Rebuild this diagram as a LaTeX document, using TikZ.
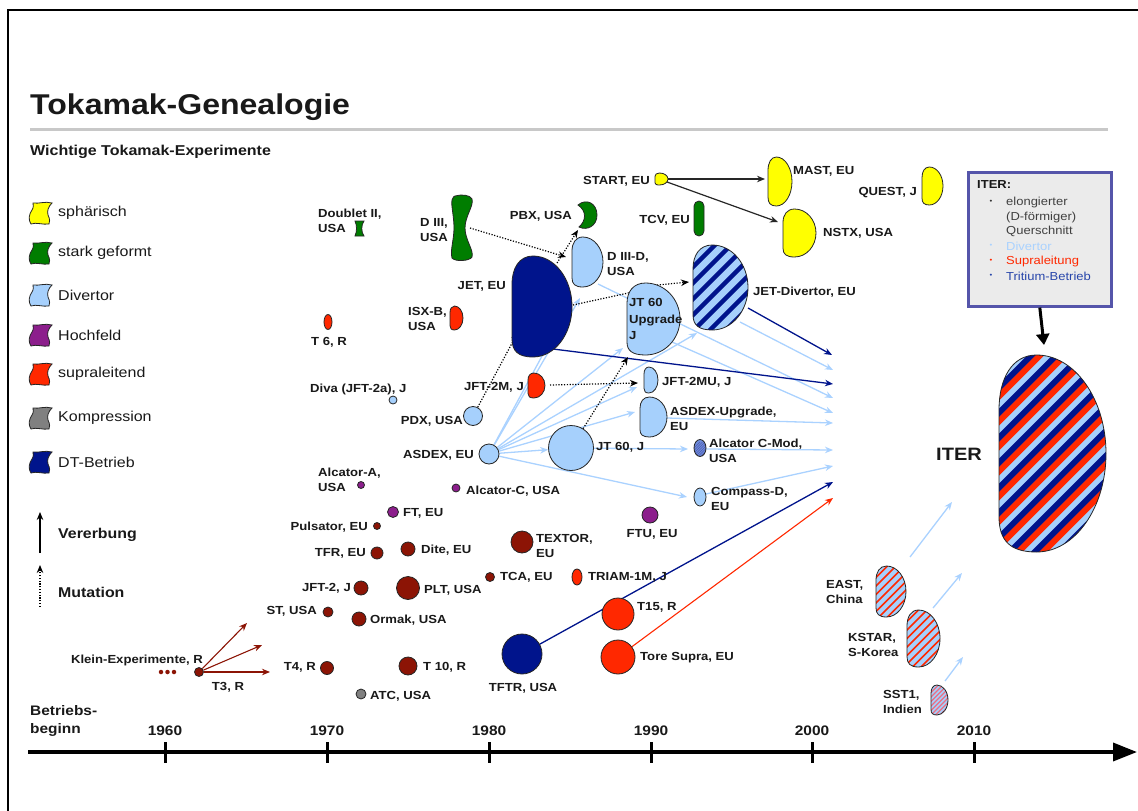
\documentclass[tikz,border=0pt]{standalone}
\usepackage{fontspec}
\setmainfont{Liberation Sans}[FakeStretch=1.12]
\usetikzlibrary{arrows.meta,shapes.geometric}
\pgfdeclarelayer{back}
\pgfdeclarelayer{bg}
\pgfsetlayers{back,bg,main}
\definecolor{cyel}{RGB}{255,255,0}
\definecolor{cgrn}{RGB}{0,125,0}
\definecolor{clb}{RGB}{166,208,252}
\definecolor{cpur}{RGB}{140,30,140}
\definecolor{cred}{RGB}{255,40,0}
\definecolor{cgry}{RGB}{128,128,128}
\definecolor{cdb}{RGB}{0,20,140}
\definecolor{cdr}{RGB}{140,20,5}
\definecolor{carr}{RGB}{170,210,255}
\definecolor{cbox}{RGB}{85,85,170}
\definecolor{cboxf}{RGB}{235,235,235}
\definecolor{crule}{RGB}{200,200,200}
\definecolor{ctxt}{RGB}{25,25,25}
\definecolor{cpink}{RGB}{235,110,130}
\definecolor{chatch}{RGB}{110,140,220}
\newcommand\Dcalc[4]{%
 \pgfmathsetmacro\dL{#1}\pgfmathsetmacro\dT{#2}%
 \pgfmathsetmacro\dR{#3}\pgfmathsetmacro\dB{#4}%
 \pgfmathsetmacro\dW{#3-#1}\pgfmathsetmacro\dH{#4-#2}%
 \pgfmathsetmacro\dxa{#1+0.35*\dW}\pgfmathsetmacro\dxb{#1+0.71*\dW}%
 \pgfmathsetmacro\dxc{#1+0.12*\dW}\pgfmathsetmacro\dxd{#1+0.10*\dW}%
 \pgfmathsetmacro\dya{#2+0.28*\dH}\pgfmathsetmacro\dyb{#4-0.18*\dH}%
 \pgfmathsetmacro\dym{#2+0.5*\dH}\pgfmathsetmacro\dyc{#2+0.775*\dH}%
 \pgfmathsetmacro\dyd{#2+0.225*\dH}\pgfmathsetmacro\dye{#2+0.12*\dH}%
 \pgfmathsetmacro\dyf{#4-0.06*\dH}%
}
\newcommand\Dpath{(\dL,\dya) -- (\dL,\dyb) .. controls (\dL,\dyf) and (\dxd,\dB) .. (\dxa,\dB) .. controls (\dxb,\dB) and (\dR,\dyc) .. (\dR,\dym) .. controls (\dR,\dyd) and (\dxb,\dT) .. (\dxa,\dT) .. controls (\dxc,\dT) and (\dL,\dye) .. (\dL,\dya) -- cycle}
\newcommand\Dshape[6]{%
 \Dcalc{#2}{#3}{#4}{#5}%
 \draw[shapeline, fill=#1] \Dpath;
 \coordinate (#6) at ({(#2+#4)/2},{(#3+#5)/2});
}
\newcommand\stripeD[6]{%
 \Dcalc{#1}{#2}{#3}{#4}%
 \begin{scope}
 \clip \Dpath;
 \fill[clb] (\dL,\dT) rectangle (\dR,\dB);
 #6
 \end{scope}
 \draw[shapeline] \Dpath;
 \coordinate (#5) at ({(#1+#3)/2},{(#2+#4)/2});
}
\newcommand\legflag[4]{%
 \begin{scope}[shift={(40,#1)}]
 \draw[shapeline, fill=#2] (-7,-10) .. controls (-1,-9) and (5,-12) .. (12,-10)
   .. controls (8,-6) and (7,-2) .. (8,2) .. controls (10,6) and (10,9) .. (9,11)
   .. controls (3,12) and (-4,9) .. (-9,11)
   .. controls (-12,7) and (-11,1) .. (-8,-3) .. controls (-6,-6) and (-7,-8) .. (-7,-10) -- cycle;
 \end{scope}
 \node[legtxt] (#4) at (58,#1) {#3};
}
\begin{document}
\begin{tikzpicture}[x=1pt,y=-1pt,
 shapeline/.style={draw=black!85, line width=0.8pt},
 ball/.style={circle, shapeline, inner sep=0pt},
 ovalnode/.style={ellipse, shapeline, inner sep=0pt},
 lab/.style={font=\bfseries\fontsize{11.7}{15.5}\selectfont, inner sep=0pt, align=left, text=ctxt},
 labE/.style={lab, anchor=east},
 labW/.style={lab, anchor=west},
 legtxt/.style={font=\fontsize{14.3}{17}\selectfont, inner sep=0pt, anchor=west, text=ctxt},
 yearlab/.style={font=\bfseries\fontsize{13.8}{16}\selectfont, inner sep=0pt, text=ctxt},
 boxtxt/.style={font=\fontsize{11.6}{14}\selectfont, inner sep=0pt, anchor=west},
 bul/.style={font=\fontsize{7}{8}\selectfont, inner sep=0pt},
 tipS/.style={-{Stealth[length=8pt,width=6.5pt]}},
 lbarr/.style={draw=carr, line width=1.3pt, tipS},
 dbarr/.style={draw=cdb, line width=1.3pt, tipS},
 rdarr/.style={draw=cred, line width=1.1pt, tipS},
 drarr/.style={draw=cdr, line width=1.1pt, tipS},
 blkarr/.style={draw=black!85, line width=1.2pt, tipS},
 mutline/.style={draw=black, line width=1.2pt, dash pattern=on 1.2pt off 1.6pt},
 mutarr/.style={mutline, tipS},
]
\useasboundingbox (0,0) rectangle (1138,811);
\begin{pgfonlayer}{back}
\fill[white] (0,0) rectangle (1138,811);
\end{pgfonlayer}
% frame
\draw[line width=2pt] (8,815) -- (8,10) -- (1142,10);
% title
\node[anchor=base west, inner sep=0pt, font=\bfseries\fontsize{28.6}{30}\selectfont, text=ctxt] (title) at (30,114) {Tokamak-Genealogie};
\draw[crule, line width=3pt] (30,129) -- (1108,129);
\node[anchor=west, inner sep=0pt, font=\bfseries\fontsize{14.3}{16}\selectfont, text=ctxt] (sub) at (30,152) {Wichtige Tokamak-Experimente};
% legend
\legflag{213}{cyel}{sphärisch}{lg1}
\legflag{253}{cgrn}{stark geformt}{lg2}
\legflag{295}{clb}{Divertor}{lg3}
\legflag{335}{cpur}{Hochfeld}{lg4}
\legflag{374}{cred}{supraleitend}{lg5}
\legflag{418}{cgry}{Kompression}{lg6}
\legflag{462}{cdb}{DT-Betrieb}{lg7}
\coordinate (verA) at (40,553); \coordinate (verB) at (40,512);
\draw[blkarr, draw=black] (verA) -- (verB);
\node[legtxt, font=\bfseries\fontsize{14.2}{17}\selectfont] (ver) at (58,535) {Vererbung};
\coordinate (mutA) at (40,607); \coordinate (mutB) at (40,565);
\draw[mutarr] (mutA) -- (mutB);
\node[legtxt, font=\bfseries\fontsize{14.2}{17}\selectfont] (mut) at (58,592) {Mutation};
% axis
\coordinate (ax0) at (28,752); \coordinate (ax1) at (1137,752);
\draw[line width=3.5pt, -{Triangle[length=24pt,width=18pt]}] (ax0) -- (ax1);
\foreach \yr/\xx in {1960/165,1970/327,1980/489,1990/651,2000/812,2010/974}{
 \draw[line width=3pt] (\xx,742) -- (\xx,763);
 \node[yearlab] (y\yr) at (\xx,731) {\yr};
}
\node[anchor=west, align=left, inner sep=0pt, font=\bfseries\fontsize{13.8}{18.5}\selectfont, text=ctxt] (bb) at (30,721) {Betriebs-\\beginn};
% circles
\foreach \n/\x/\y/\d/\c in {T3/199/672/9/cdr, Tfour/327/668/13/cdr, ST/328/612/10/cdr, JFTtwo/361/588/14/cdr,
 Ormak/359/619/14/cdr, TFR/377/553/12/cdr, Pulsator/377/526/7/cdr, FT/393/512/11/cpur, AlcA/361/485/7/cpur,
 Dite/408/549/14/cdr, PLT/408/588/23/cdr, Tten/408/666/18/cdr, ATC/361/694/10/cgry, AlcC/456/488/8/cpur,
 TCA/490/577/9/cdr, TEXTOR/522/542/22/cdr, FTU/650/515/16/cpur, Tfifteen/618/614/32/cred,
 ToreSupra/618/657/34/cred, TFTR/522/654/40/cdb, Diva/393/400/8/clb, PDX/473/416/19/clb,
 ASDEX/489/454/20/clb, JTsixty/571/448/45/clb}
 { \node[ball, fill=\c, minimum size=\d] (\n) at (\x,\y) {}; }
\foreach \n/\x in {kd1/161, kd2/167.5, kd3/174}
 { \node[circle, fill=cdr, inner sep=0pt, minimum size=4.5] (\n) at (\x,672) {}; }
% ellipses
\node[ovalnode, fill=cred, minimum width=8, minimum height=15] (Tsix) at (328,322) {};
\node[ovalnode, fill=cred, minimum width=10, minimum height=16] (TRIAM) at (577,577) {};
\node[ovalnode, fill=clb, minimum width=12, minimum height=18] (CompassD) at (700,497) {};
\begin{scope}
 \clip (700,448) ellipse [x radius=6pt, y radius=8.5pt];
 \fill[chatch] (690,438) rectangle (710,460);
 \foreach \s in {0,2.5,...,32} \draw[cdb!70, line width=0.5pt] (680+\s,462) -- ++(20,-20);
\end{scope}
\draw[shapeline] (700,448) ellipse [x radius=6pt, y radius=8.5pt];
\coordinate (AlcCMod) at (700,448);
% D shapes
\Dshape{cdb}{512}{256}{572}{357}{JET}
\Dshape{clb}{572}{237}{603}{287}{DIIID}
\Dshape{clb}{627}{283}{680}{355}{JTsixtyU}
\Dshape{cred}{528}{373}{545}{398}{JFTtwoM}
\Dshape{clb}{644}{367}{658}{393}{JFTtwoMU}
\Dshape{clb}{640}{397}{667}{437}{AUG}
\Dshape{cred}{450}{306}{463}{330}{ISXB}
\Dshape{cyel}{655}{173}{668}{185}{START}
\Dshape{cyel}{768}{157}{792}{206}{MAST}
\Dshape{cyel}{783}{209}{816}{257}{NSTX}
\Dshape{cyel}{922}{167}{943}{205}{QUEST}
\stripeD{693}{245}{748}{330}{JETDiv}{\foreach \s in {0,16,...,160} \draw[cdb, line width=4.3pt] (\dL-\dH+\s,\dB+6) -- ++(120,-120);}
\stripeD{999}{355}{1106}{552}{ITER}{\foreach \s in {0,25,...,325} {\draw[cdb, line width=6.1pt] (\dL-\dH+\s,\dB+8) -- ++(230,-230); \draw[cred, line width=6.1pt] (\dL-\dH+\s+8.33,\dB+8) -- ++(230,-230);}}
\stripeD{876}{566}{906}{617}{EAST}{\foreach \s in {0,8.5,...,95} \draw[cred, line width=1.7pt] (\dL-\dH+\s,\dB+3) -- ++(70,-70);}
\stripeD{907}{610}{940}{667}{KSTAR}{\foreach \s in {0,8.5,...,100} \draw[cred, line width=1.7pt] (\dL-\dH+\s,\dB+3) -- ++(75,-75);}
\stripeD{931}{685}{948}{715}{SST}{\foreach \s in {0,4.5,...,55} \draw[cpink, line width=1.2pt] (\dL-\dH+\s,\dB+3) -- ++(40,-40);}
% green custom shapes
\draw[shapeline, fill=cgrn] (455,196) .. controls (462,194) and (470,195) .. (472,199) .. controls (474,206) and (465,216) .. (465,228) .. controls (465,240) and (474,250) .. (472,257) .. controls (470,261) and (455,262) .. (452,258) .. controls (450,250) and (454,240) .. (454,228) .. controls (454,216) and (451,206) .. (452,200) .. controls (453,197) and (454,196) .. (455,196) -- cycle;
\coordinate (DIII) at (462,228);
\draw[shapeline, fill=cgrn] (355,221) -- (364,221) .. controls (361,225) and (361,232) .. (364,236) -- (355,236) .. controls (357,232) and (357,225) .. (355,221) -- cycle;
\coordinate (DoubletII) at (359,229);
\draw[shapeline, fill=cgrn] (578,205) .. controls (586,198) and (597,203) .. (597,215) .. controls (597,226) and (587,231) .. (579,227) .. controls (586,221) and (587,211) .. (578,205) -- cycle;
\coordinate (PBX) at (588,215);
\draw[shapeline, fill=cgrn, rounded corners=5pt] (694,201) rectangle (704,236);
\coordinate (TCV) at (699,218);
% ITER box
\node[draw=cbox, line width=2.6pt, fill=cboxf, minimum width=143, minimum height=134, anchor=north west, inner sep=0pt] (box) at (967,171) {};
\node[anchor=west, inner sep=0pt, font=\bfseries\fontsize{11.6}{14}\selectfont, text=ctxt] (boxT) at (977,185) {ITER:};
\node[boxtxt, text=black!75] (bx1) at (1006,202) {elongierter};
\node[boxtxt, text=black!75] (bx2) at (1006,217) {(D-förmiger)};
\node[boxtxt, text=black!75] (bx3) at (1006,231) {Querschnitt};
\node[boxtxt, text=carr] (bx4) at (1006,246) {Divertor};
\node[boxtxt, text=cred] (bx5) at (1006,261) {Supraleitung};
\node[boxtxt, text={rgb,255:red,40;green,70;blue,170}] (bx6) at (1006,276) {Tritium-Betrieb};
\node[bul, text=black!80] (bu1) at (991,202) {•};
\node[bul, text=carr] (bu4) at (991,246) {•};
\node[bul, text=cred] (bu5) at (991,261) {•};
\node[bul, text={rgb,255:red,40;green,70;blue,170}] (bu6) at (991,276) {•};
\coordinate (itertop) at (1044,345);
\draw[line width=3pt, -{Triangle[length=11pt,width=13pt]}] (box.south) -- (itertop);
% labels
\node[lab] (lKlein) at (137,660) {Klein-Experimente, R};
\node[lab] (lT3) at (228,687) {T3, R};
\node[labE] (lT4) at (316,667) {T4, R};
\node[labE] (lST) at (317,611) {ST, USA};
\node[labE] (lJFT2) at (351,588) {JFT-2, J};
\node[labE] (lTFR) at (366,553) {TFR, EU};
\node[labE] (lPuls) at (368,527) {Pulsator, EU};
\node[labW] (lAlcA) at (318,480) {Alcator-A,\\USA};
\node[labW] (lDiva) at (310,389) {Diva (JFT-2a), J};
\node[labE] (lPDX) at (463,421) {PDX, USA};
\node[labE] (lASDEX) at (474,455) {ASDEX, EU};
\node[labE] (lJFT2M) at (524,387) {JFT-2M, J};
\node[labE] (lJET) at (506,286) {JET, EU};
\node[labW] (lISXB) at (408,319) {ISX-B,\\USA};
\node[lab] (lT6) at (329,342) {T 6, R};
\node[labW] (lDoub) at (318,221) {Doublet II,\\USA};
\node[labW] (lDIII) at (420,230) {D III,\\USA};
\node[labE] (lPBX) at (572,216) {PBX, USA};
\node[labE] (lSTART) at (650,181) {START, EU};
\node[labE] (lTCV) at (690,220) {TCV, EU};
\node[labE] (lQUEST) at (917,193) {QUEST, J};
\node[labW] (lEAST) at (826,592) {EAST,\\China};
\node[labW] (lKSTAR) at (848,645) {KSTAR,\\S-Korea};
\node[labW] (lSST) at (883,702) {SST1,\\Indien};
\node[labW] (lOrmak) at (370,620) {Ormak, USA};
\node[labW] (lFT) at (403,513) {FT, EU};
\node[labW] (lDite) at (421,550) {Dite, EU};
\node[labW] (lPLT) at (424,590) {PLT, USA};
\node[labW] (lT10) at (423,667) {T 10, R};
\node[labW] (lATC) at (370,696) {ATC, USA};
\node[labW] (lAlcC) at (466,491) {Alcator-C, USA};
\node[labW] (lTCA) at (500,577) {TCA, EU};
\node[labW] (lTEXTOR) at (536,546) {TEXTOR,\\EU};
\node[labW] (lTRIAM) at (588,577) {TRIAM-1M, J};
\node[labW] (lT15) at (637,607) {T15, R};
\node[labW] (lTore) at (640,658) {Tore Supra, EU};
\node[lab] (lTFTR) at (523,688) {TFTR, USA};
\node[lab] (lFTU) at (652,534) {FTU, EU};
\node[labW] (lJT60) at (596,447) {JT 60, J};
\node[labW] (lJFT2MU) at (662,382) {JFT-2MU, J};
\node[labW] (lAUG) at (670,419) {ASDEX-Upgrade,\\EU};
\node[labW] (lCMod) at (709,451) {Alcator C-Mod,\\USA};
\node[labW] (lCompass) at (711,499) {Compass-D,\\EU};
\node[labW] (lDIIID) at (607,264) {D III-D,\\USA};
\node[labW] (lJETDiv) at (753,292) {JET-Divertor, EU};
\node[labW] (lMAST) at (793,171) {MAST, EU};
\node[labW] (lNSTX) at (823,233) {NSTX, USA};
\node[labW, font=\bfseries\fontsize{11.7}{16.5}\selectfont] (lJT60U) at (629,319) {JT 60\\Upgrade\\J};
\node[font=\bfseries\fontsize{17.9}{20}\selectfont, inner sep=0pt, text=ctxt] (lITER) at (959,454) {ITER};
% connector coordinates
\coordinate (t3a) at (247,623); \coordinate (t3b) at (262,645); \coordinate (t3c) at (270,672);
\coordinate (startR) at (668,179); \coordinate (startR2) at (667,182);
\coordinate (mastin) at (765,179); \coordinate (nstxin) at (778,222);
\coordinate (m1s) at (470,228); \coordinate (m1e) at (566,257);
\coordinate (m2s) at (557,263); \coordinate (m2e) at (578,230);
\coordinate (m3e) at (518,332);
\coordinate (m4s) at (573,305); \coordinate (m4e) at (642,290);
\coordinate (m5e) at (628,357);
\coordinate (m6s) at (550,385); \coordinate (m6e) at (638,383);
\coordinate (m7s) at (657,285); \coordinate (m7e) at (689,282);
\coordinate (a1) at (548,345); \coordinate (a2) at (580,298); \coordinate (a3) at (623,348);
\coordinate (a4) at (697,333); \coordinate (a5) at (637,387); \coordinate (a6) at (635,412);
\coordinate (a8) at (687,497); \coordinate (b1) at (688,449);
\coordinate (c1s) at (598,284); \coordinate (c1e) at (833,398);
\coordinate (c2s) at (740,322); \coordinate (c2e) at (833,370);
\coordinate (c3s) at (672,342); \coordinate (c3e) at (833,413);
\coordinate (c4s) at (667,418); \coordinate (c4e) at (833,423);
\coordinate (c5s) at (706,449); \coordinate (c5e) at (833,450);
\coordinate (c6s) at (706,494); \coordinate (c6e) at (833,466);
\coordinate (d1s) at (748,308); \coordinate (d1e) at (832,355);
\coordinate (d2s) at (553,349); \coordinate (d2e) at (833,384);
\coordinate (d3e) at (833,482); \coordinate (r1e) at (833,498);
\coordinate (e1s) at (910,557); \coordinate (e1e) at (952,502);
\coordinate (e2s) at (933,608); \coordinate (e2e) at (962,573);
\coordinate (e3s) at (945,681); \coordinate (e3e) at (963,657);
% connectors
\begin{pgfonlayer}{bg}
\foreach \t in {t3a,t3b,t3c} \draw[drarr] (T3) -- (\t);
\draw[blkarr] (startR) -- (mastin);
\draw[blkarr] (startR2) -- (nstxin);
\foreach \t in {a1,a2,a3,a4,a5,a6,a8} \draw[lbarr] (ASDEX) -- (\t);
\draw[lbarr] (ASDEX) -- (JTsixty);
\draw[lbarr] (JTsixty) -- (b1);
\draw[lbarr] (c1s) -- (c1e);
\draw[lbarr] (c2s) -- (c2e);
\draw[lbarr] (c3s) -- (c3e);
\draw[lbarr] (c4s) -- (c4e);
\draw[lbarr] (c5s) -- (c5e);
\draw[lbarr] (c6s) -- (c6e);
\draw[lbarr] (e1s) -- (e1e);
\draw[lbarr] (e2s) -- (e2e);
\draw[lbarr] (e3s) -- (e3e);
\draw[dbarr] (d1s) -- (d1e);
\draw[dbarr] (d2s) -- (d2e);
\draw[dbarr] (TFTR) -- (d3e);
\draw[rdarr] (ToreSupra) -- (r1e);
\draw[mutarr] (m1s) -- (m1e);
\draw[mutarr] (m2s) -- (m2e);
\draw[mutarr] (PDX) -- (m3e);
\draw[mutarr] (m4s) -- (m4e);
\draw[mutarr] (JTsixty) -- (m5e);
\draw[mutarr] (m6s) -- (m6e);
\draw[mutarr] (m7s) -- (m7e);
\end{pgfonlayer}
\end{tikzpicture}
\end{document}
